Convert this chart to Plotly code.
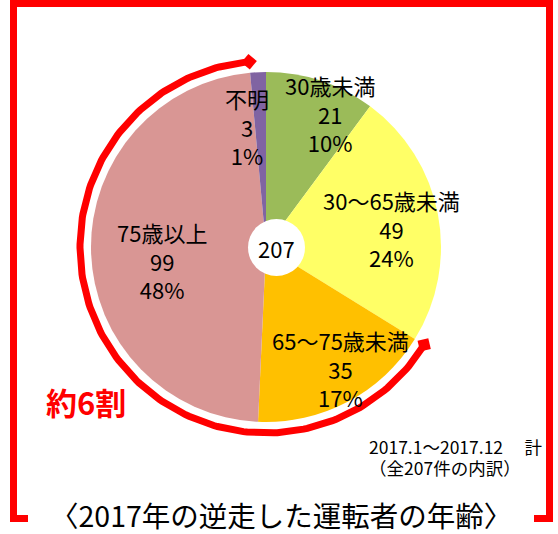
import math
import plotly.graph_objects as go

# ---- data ----
categories = ["30歳未満", "30～65歳未満", "65～75歳未満", "75歳以上", "不明"]
values = [21, 49, 35, 99, 3]
colors = ["#9BBB59", "#FFFF66", "#FFC000", "#D99694", "#8064A2"]
highlight = ["65～75歳未満", "75歳以上"]   # slices spanned by the red arrow
title_text = "〈2017年の逆走した運転者の年齢〉"
note_lines = ["2017.1～2017.12　 計", "（全207件の内訳）"]
callout = "約6割"

# ---- layout constants (pixels) ----
W, H = 558, 534
CX, CY, R = 266, 247, 175
ARC_R = 186
HOLE = (276.5, 247.5, 28.5)
LABEL_POS = [(330, 113), (391, 228), (340, 368), (162, 260), (247, 126)]
NOTE_POS = [(367, 446), (367, 467)]
FONT = "Noto Sans CJK JP, Noto Sans, sans-serif"
RED = "#FF0000"

total = sum(values)

fig = go.Figure()

fig.add_trace(go.Pie(
    labels=categories, values=values, sort=False, direction="clockwise",
    rotation=0, marker=dict(colors=colors, line=dict(width=0)),
    textinfo="none", hoverinfo="label+value+percent", showlegend=False,
    domain=dict(x=[(CX - R) / W, (CX + R) / W], y=[1 - (CY + R) / H, 1 - (CY - R) / H]),
))

# red arc spanning the highlighted slices
cum = [0]
for v in values:
    cum.append(cum[-1] + v)
i0 = categories.index(highlight[0])
i1 = categories.index(highlight[-1])
a0 = cum[i0] / total * 360
a1 = cum[i1 + 1] / total * 360
n = 200
angs = [a0 + (a1 - a0) * k / n for k in range(n + 1)]
ax = [CX + ARC_R * math.sin(math.radians(a)) for a in angs]
ay = [CY - ARC_R * math.cos(math.radians(a)) for a in angs]
fig.add_trace(go.Scatter(x=ax, y=ay, mode="lines", line=dict(color=RED, width=7),
                         hoverinfo="skip", showlegend=False))
fig.add_trace(go.Scatter(
    x=[ax[0], ax[-1]], y=[ay[0], ay[-1]], mode="markers",
    marker=dict(symbol="diamond", size=12, color=RED, angle=[a0 - 90, a1 + 90]),
    hoverinfo="skip", showlegend=False))

shapes = [
    dict(type="path", path="M 28,518.5 L 13.5,518.5 L 13.5,3.5 L 549.5,3.5 L 549.5,518.5 L 534,518.5",
         line=dict(color=RED, width=7), xref="x", yref="y", layer="above"),
    dict(type="circle", xref="x", yref="y", x0=HOLE[0] - HOLE[2], x1=HOLE[0] + HOLE[2],
         y0=HOLE[1] - HOLE[2], y1=HOLE[1] + HOLE[2], fillcolor="white",
         line=dict(width=0), layer="above"),
]

annotations = []
for cat, v, (lx, ly) in zip(categories, values, LABEL_POS):
    pct = round(v / total * 100)
    annotations.append(dict(x=lx, y=ly, xref="x", yref="y", showarrow=False,
                            text=f"{cat}<br>{v}<br>{pct}%",
                            font=dict(family=FONT, size=22, color="black")))
annotations.append(dict(x=HOLE[0], y=HOLE[1], xref="x", yref="y", showarrow=False,
                        text=str(total), font=dict(family=FONT, size=22, color="black")))
annotations.append(dict(x=86, y=401, xref="x", yref="y", showarrow=False,
                        text=f"<b>{callout}</b>", font=dict(family=FONT, size=31, color=RED)))
for line, (nx, ny) in zip(note_lines, NOTE_POS):
    annotations.append(dict(x=nx, y=ny, xref="x", yref="y", showarrow=False, xanchor="left",
                            text=line, font=dict(family=FONT, size=17.5, color="black")))
annotations.append(dict(x=281, y=514, xref="x", yref="y", showarrow=False,
                        text=title_text, font=dict(family=FONT, size=28.5, color="black")))

fig.update_layout(
    width=W, height=H, autosize=False, margin=dict(l=0, r=0, t=0, b=0),
    paper_bgcolor="white", plot_bgcolor="white",
    xaxis=dict(range=[0, W], visible=False, domain=[0, 1], fixedrange=True),
    yaxis=dict(range=[H, 0], visible=False, domain=[0, 1], fixedrange=True),
    shapes=shapes, annotations=annotations,
)

fig.write_html("out.html", config={"displayModeBar": False},
               post_script="document.body.style.margin='0';document.body.style.overflow='hidden';")
